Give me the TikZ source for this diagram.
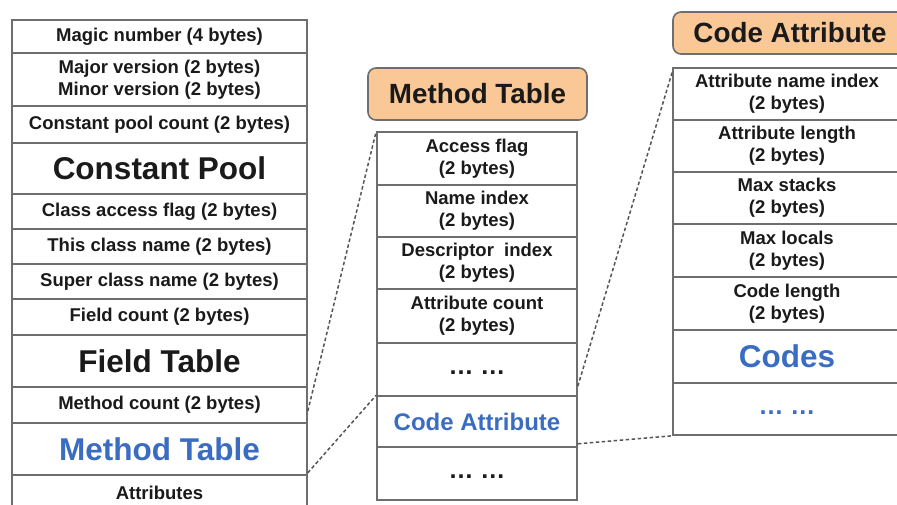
\documentclass[tikz,border=0pt]{standalone}
\usepackage{fontspec}
\setmainfont{Liberation Sans}
\definecolor{inkc}{HTML}{1A1A1A}
\definecolor{bluec}{HTML}{3A6DC2}
\definecolor{rulec}{HTML}{6E6E6E}
\definecolor{headfill}{HTML}{F9C896}
\definecolor{linkc}{HTML}{555555}
\begin{document}
\begin{tikzpicture}[x=1pt,y=-1pt,
  cell/.style={draw=rulec, line width=1.6pt, inner sep=0pt, align=center,
    text=inkc, font=\fontsize{18.5}{22}\selectfont\bfseries},
  lcol/.style={cell, minimum width=295pt},
  mcol/.style={cell, minimum width=200pt},
  rcol/.style={cell, minimum width=228pt},
  big/.style={font=\fontsize{31.5}{34}\selectfont\bfseries},
  mid/.style={font=\fontsize{24}{26}\selectfont\bfseries},
  dots/.style={font=\fontsize{25}{25}\selectfont\bfseries},
  blue/.style={text=bluec},
  header/.style={draw=rulec, line width=1.6pt, fill=headfill, rounded corners=8pt,
    inner sep=0pt, text=inkc, font=\fontsize{27.8}{30}\selectfont\bfseries},
  link/.style={draw=linkc, line width=1.5pt, dash pattern=on 3.5pt off 2.5pt}]
\useasboundingbox (0,0) rectangle (897,504);
\fill[white] (0,0) rectangle (897,504);
\clip (0,0) rectangle (897,504);

% class file layout
\node[lcol, minimum height=33pt] (magic) at (159.5,36.5) {Magic number (4 bytes)};
\node[lcol, minimum height=53pt] (version) at (159.5,80) {Major version (2 bytes)\\Minor version (2 bytes)};
\node[lcol, minimum height=37pt] (cpcount) at (159.5,124.5) {Constant pool count (2 bytes)};
\node[lcol, big, minimum height=51pt] (cpool) at (159.5,168.5) {Constant Pool};
\node[lcol, minimum height=35pt] (access) at (159.5,211.5) {Class access flag (2 bytes)};
\node[lcol, minimum height=35pt] (thisname) at (159.5,246.5) {This class name (2 bytes)};
\node[lcol, minimum height=35pt] (supername) at (159.5,281.5) {Super class name (2 bytes)};
\node[lcol, minimum height=36pt] (fcount) at (159.5,317) {Field count (2 bytes)};
\node[lcol, big, minimum height=52pt] (ftable) at (159.5,361) {Field Table};
\node[lcol, minimum height=36pt] (mcount) at (159.5,405) {Method count (2 bytes)};
\node[lcol, big, blue, minimum height=52pt] (mtable) at (159.5,449) {Method Table};
\node[lcol, minimum height=35pt] (attrs) at (159.5,492.5) {Attributes};

% method table
\node[header, minimum width=219pt, minimum height=52pt] (mhead) at (477.5,94) {Method Table};
\node[mcol, minimum height=53pt] (m1) at (477,158.5) {Access flag\\(2 bytes)};
\node[mcol, minimum height=52pt] (m2) at (477,211) {Name index\\(2 bytes)};
\node[mcol, minimum height=52pt] (m3) at (477,263) {Descriptor\ \ index\\(2 bytes)};
\node[mcol, minimum height=54pt] (m4) at (477,316) {Attribute count\\(2 bytes)};
\node[mcol, minimum height=53pt] (m5) at (477,369.5) {};
\node[dots, text=inkc] (m5dots) at (477,373) {…\ …};
\node[mcol, mid, blue, minimum height=51pt] (m6) at (477,421.5) {Code Attribute};
\node[mcol, minimum height=53pt] (m7) at (477,473.5) {};
\node[dots, text=inkc] (m7dots) at (477,477) {…\ …};

% code attribute
\node[header, minimum width=234pt, minimum height=42pt] (chead) at (790,33) {Code Attribute};
\node[rcol, minimum height=52pt] (r1) at (787,94) {Attribute name index\\(2 bytes)};
\node[rcol, minimum height=52pt] (r2) at (787,146) {Attribute length\\(2 bytes)};
\node[rcol, minimum height=52pt] (r3) at (787,198) {Max stacks\\(2 bytes)};
\node[rcol, minimum height=53pt] (r4) at (787,250.5) {Max locals\\(2 bytes)};
\node[rcol, minimum height=53pt] (r5) at (787,303.5) {Code length\\(2 bytes)};
\node[rcol, big, blue, minimum height=53pt] (r6) at (787,356.5) {Codes};
\node[rcol, minimum height=52pt] (r7) at (787,409) {};
\node[dots, text=bluec] (r7dots) at (787,413) {…\ …};

% zoom-in guides
\draw[link] ([yshift=-6pt]mcount.east) -- (m1.north west);
\draw[link] ([yshift=3pt]mtable.south east) -- (m6.north west);
\draw[link] ([yshift=9pt]m6.north east) -- ([yshift=-5pt]r1.north west);
\draw[link] ([yshift=4pt]m6.south east) -- (r7.south west);
\end{tikzpicture}
\end{document}
